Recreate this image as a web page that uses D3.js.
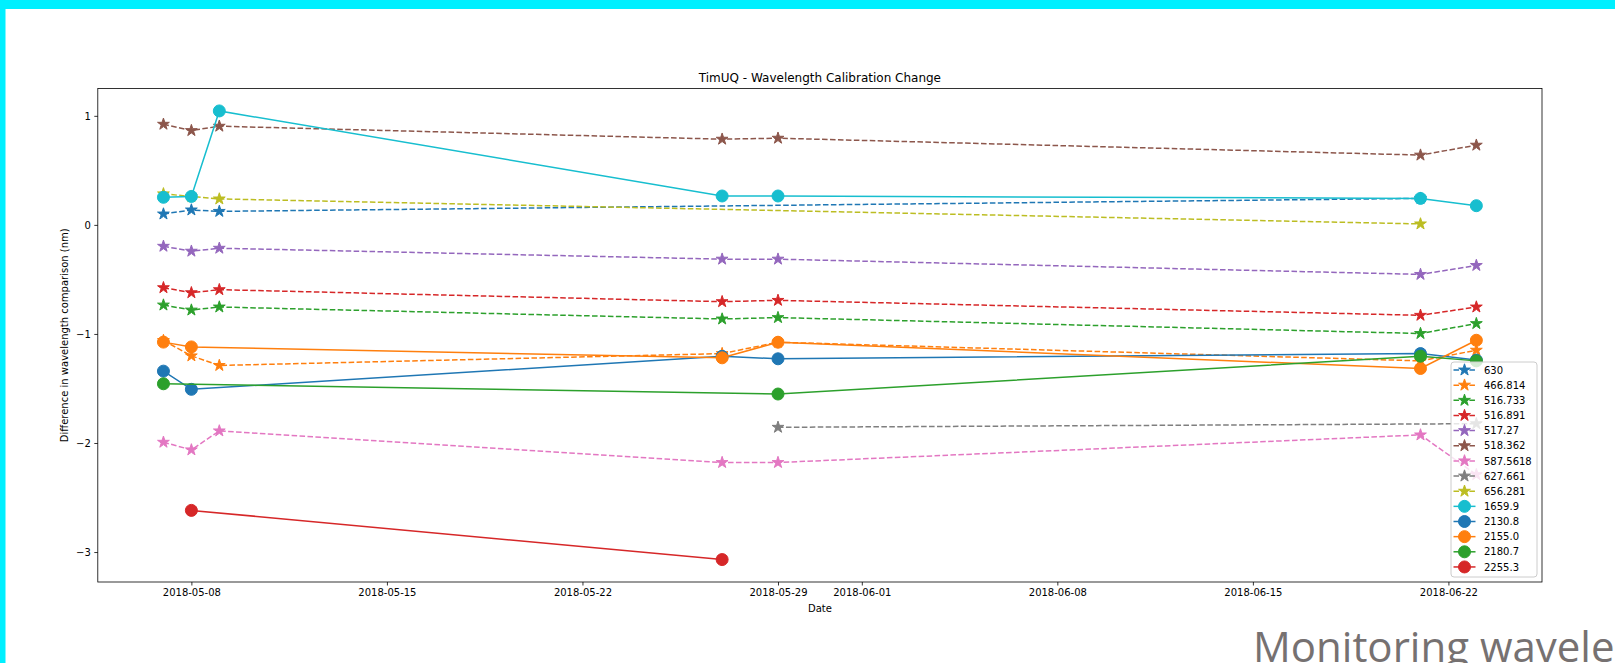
<!DOCTYPE html>
<html>
<head>
<meta charset="utf-8">
<script src="https://cdn.jsdelivr.net/npm/d3@7"></script>
<style>
  html, body { margin: 0; padding: 0; background: #ffffff; }
  svg { display: block; }
  text { font-family: "DejaVu Sans", sans-serif; }
</style>
</head>
<body>
<svg id="chart" width="1615" height="663"></svg>
<script>
// Measurement dates (one column per calibration run)
const dates = ["2018-05-07", "2018-05-08", "2018-05-09", "2018-05-27", "2018-05-29", "2018-06-21", "2018-06-23"];

// Date axis tick labels
const xTicks = ["2018-05-08", "2018-05-15", "2018-05-22", "2018-05-29", "2018-06-01", "2018-06-08", "2018-06-15", "2018-06-22"];
const yTicks = [1, 0, -1, -2, -3];

// Line names (wavelengths) in plotting order
const names = ["630", "466.814", "516.733", "516.891", "517.27", "518.362", "587.5618", "627.661", "656.281",
               "1659.9", "2130.8", "2155.0", "2180.7", "2255.3"];

// Difference in wavelength comparison (nm); null = not measured that day
const v630      = [0.100, 0.137, 0.124, null, null, 0.243, null];
const v466_814  = [-1.060, -1.201, -1.289, -1.180, -1.076, -1.247, -1.149];
const v516_733  = [-0.735, -0.781, -0.753, -0.863, -0.850, -0.996, -0.905];
const v516_891  = [-0.576, -0.622, -0.594, -0.704, -0.692, -0.829, -0.753];
const v517_27   = [-0.196, -0.241, -0.214, -0.314, -0.314, -0.454, -0.372];
const v518_362  = [0.923, 0.865, 0.905, 0.786, 0.795, 0.640, 0.731];
const v587_5618 = [-1.993, -2.063, -1.889, -2.179, -2.179, -1.926, -2.290];
const v627_661  = [null, null, null, null, -1.856, null, -1.823];
const v656_281  = [0.285, 0.260, 0.238, null, null, 0.009, null];
const v1659_9   = [0.253, 0.261, 1.045, 0.265, 0.265, 0.243, 0.176];
const v2130_8   = [-1.341, -1.508, null, -1.205, -1.228, -1.180, -1.240];
const v2155_0   = [-1.075, -1.119, null, -1.219, -1.076, -1.317, -1.058];
const v2180_7   = [-1.457, null, null, null, -1.551, -1.204, -1.247];
const v2255_3   = [null, -2.618, null, -3.069, null, null, null];

const seriesValues = [v630, v466_814, v516_733, v516_891, v517_27, v518_362, v587_5618, v627_661, v656_281,
                      v1659_9, v2130_8, v2155_0, v2180_7, v2255_3];
const markers = ["star", "star", "star", "star", "star", "star", "star", "star", "star",
                 "circle", "circle", "circle", "circle", "circle"];
const colors = ["#1f77b4", "#ff7f0e", "#2ca02c", "#d62728", "#9467bd", "#8c564b", "#e377c2", "#7f7f7f", "#bcbd22",
                "#17becf", "#1f77b4", "#ff7f0e", "#2ca02c", "#d62728"];

const parse = d3.utcParse("%Y-%m-%d");
const series = names.map((name, i) => ({
  name,
  marker: markers[i],
  color: colors[i],
  points: seriesValues[i]
    .map((v, j) => ({ date: parse(dates[j]), value: v }))
    .filter(p => p.value !== null)
}));

const svg = d3.select("#chart");

// Slide decoration: cyan strips along the top and left edges
svg.append("rect").attr("x", 0).attr("y", 0).attr("width", 1615).attr("height", 9).attr("fill", "#00f0ff");
svg.append("rect").attr("x", 0).attr("y", 0).attr("width", 5.5).attr("height", 663).attr("fill", "#00f0ff");

// Plot area
const plot = { left: 97.8, right: 1542, top: 88.5, bottom: 582 };

const allDates = dates.map(parse);
const [t0, t1] = d3.extent(allDates);
const tPad = (t1 - t0) * 0.05;
const x = d3.scaleUtc()
  .domain([new Date(+t0 - tPad), new Date(+t1 + tPad)])
  .range([plot.left, plot.right]);

const allVals = seriesValues.flat().filter(v => v !== null);
const [vMin, vMax] = d3.extent(allVals);
const vPad = (vMax - vMin) * 0.05;
const y = d3.scaleLinear()
  .domain([vMin - vPad, vMax + vPad])
  .range([plot.bottom, plot.top]);

// Axes
const fmtDate = d3.utcFormat("%Y-%m-%d");
const xAxis = d3.axisBottom(x)
  .tickValues(xTicks.map(parse))
  .tickFormat(fmtDate)
  .tickSizeInner(3.5).tickSizeOuter(0).tickPadding(3.5);
const yAxis = d3.axisLeft(y)
  .tickValues(yTicks)
  .tickFormat(d => (d < 0 ? "\u2212" + Math.abs(d) : String(d)))
  .tickSizeInner(3.5).tickSizeOuter(0).tickPadding(3.5);

const gx = svg.append("g").attr("transform", `translate(0,${plot.bottom})`).call(xAxis);
const gy = svg.append("g").attr("transform", `translate(${plot.left},0)`).call(yAxis);
[gx, gy].forEach(g => {
  g.select(".domain").remove();
  g.selectAll(".tick line").attr("stroke", "#000").attr("stroke-width", 0.8);
  g.selectAll(".tick text").attr("fill", "#000").style("font-size", "10px").style("font-family", "DejaVu Sans");
});

// Clip the data to the plot area
svg.append("clipPath").attr("id", "plotClip")
  .append("rect")
  .attr("x", plot.left).attr("y", plot.top)
  .attr("width", plot.right - plot.left).attr("height", plot.bottom - plot.top);

const starPath = (R) => {
  const r = R * 0.381966;
  const pts = [];
  for (let k = 0; k < 10; k++) {
    const a = -Math.PI / 2 + k * Math.PI / 5;
    const rad = k % 2 === 0 ? R : r;
    pts.push([rad * Math.cos(a), rad * Math.sin(a)]);
  }
  return "M" + pts.map(p => p[0].toFixed(3) + "," + p[1].toFixed(3)).join("L") + "Z";
};
const STAR = starPath(6.2);
const CIRCLE_R = 6;

function drawMarker(g, s, cx, cy) {
  if (s.marker === "star") {
    g.append("path").attr("d", STAR)
      .attr("transform", `translate(${cx},${cy})`)
      .attr("fill", s.color).attr("stroke", s.color).attr("stroke-width", 1)
      .attr("stroke-linejoin", "miter");
  } else {
    g.append("circle").attr("cx", cx).attr("cy", cy).attr("r", CIRCLE_R)
      .attr("fill", s.color).attr("stroke", s.color).attr("stroke-width", 1);
  }
}

const line = d3.line().x(d => x(d.date)).y(d => y(d.value));
const dataLayer = svg.append("g").attr("clip-path", "url(#plotClip)");

series.forEach(s => {
  const g = dataLayer.append("g");
  g.append("path")
    .datum(s.points)
    .attr("d", line)
    .attr("fill", "none")
    .attr("stroke", s.color)
    .attr("stroke-width", 1.5)
    .attr("stroke-dasharray", s.marker === "star" ? "5.55,2.4" : null);
  s.points.forEach(p => drawMarker(g, s, x(p.date), y(p.value)));
});

// Frame
svg.append("rect")
  .attr("x", plot.left).attr("y", plot.top)
  .attr("width", plot.right - plot.left).attr("height", plot.bottom - plot.top)
  .attr("fill", "none").attr("stroke", "#000").attr("stroke-width", 0.8);

// Title and axis labels
svg.append("text")
  .attr("x", (plot.left + plot.right) / 2).attr("y", 82)
  .attr("text-anchor", "middle").style("font-size", "12px")
  .text("TimUQ - Wavelength Calibration Change");
svg.append("text")
  .attr("x", (plot.left + plot.right) / 2).attr("y", 611.5)
  .attr("text-anchor", "middle").style("font-size", "10px")
  .text("Date");
svg.append("text")
  .attr("transform", `translate(67.5,${(plot.top + plot.bottom) / 2}) rotate(-90)`)
  .attr("text-anchor", "middle").style("font-size", "10px")
  .text("Difference in wavelength comparison (nm)");

// Legend
const leg = svg.append("g");
leg.append("rect")
  .attr("x", 1451).attr("y", 362).attr("width", 86).attr("height", 215)
  .attr("rx", 3).attr("ry", 3)
  .attr("fill", "#ffffff").attr("fill-opacity", 0.8)
  .attr("stroke", "#cccccc").attr("stroke-width", 1);
series.forEach((s, i) => {
  const cy = 370 + i * 15.15;
  const g = leg.append("g");
  g.append("line")
    .attr("x1", 1453.5).attr("x2", 1475.5).attr("y1", cy).attr("y2", cy)
    .attr("stroke", s.color).attr("stroke-width", 1.5)
    .attr("stroke-dasharray", s.marker === "star" ? "5.55,2.4" : null);
  drawMarker(g, s, 1464.5, cy);
  g.append("text")
    .attr("x", 1484).attr("y", cy).attr("dy", "0.36em")
    .style("font-size", "10px").attr("fill", "#000")
    .text(s.name);
});

// Slide caption running off the bottom-right corner
svg.append("text")
  .attr("x", 1253).attr("y", 662)
  .style("font-family", "'Open Sans', 'Noto Sans', sans-serif")
  .style("font-size", "42px")
  .attr("fill", "#767171")
  .text("Monitoring wavelength calibration");
</script>
</body>
</html>
